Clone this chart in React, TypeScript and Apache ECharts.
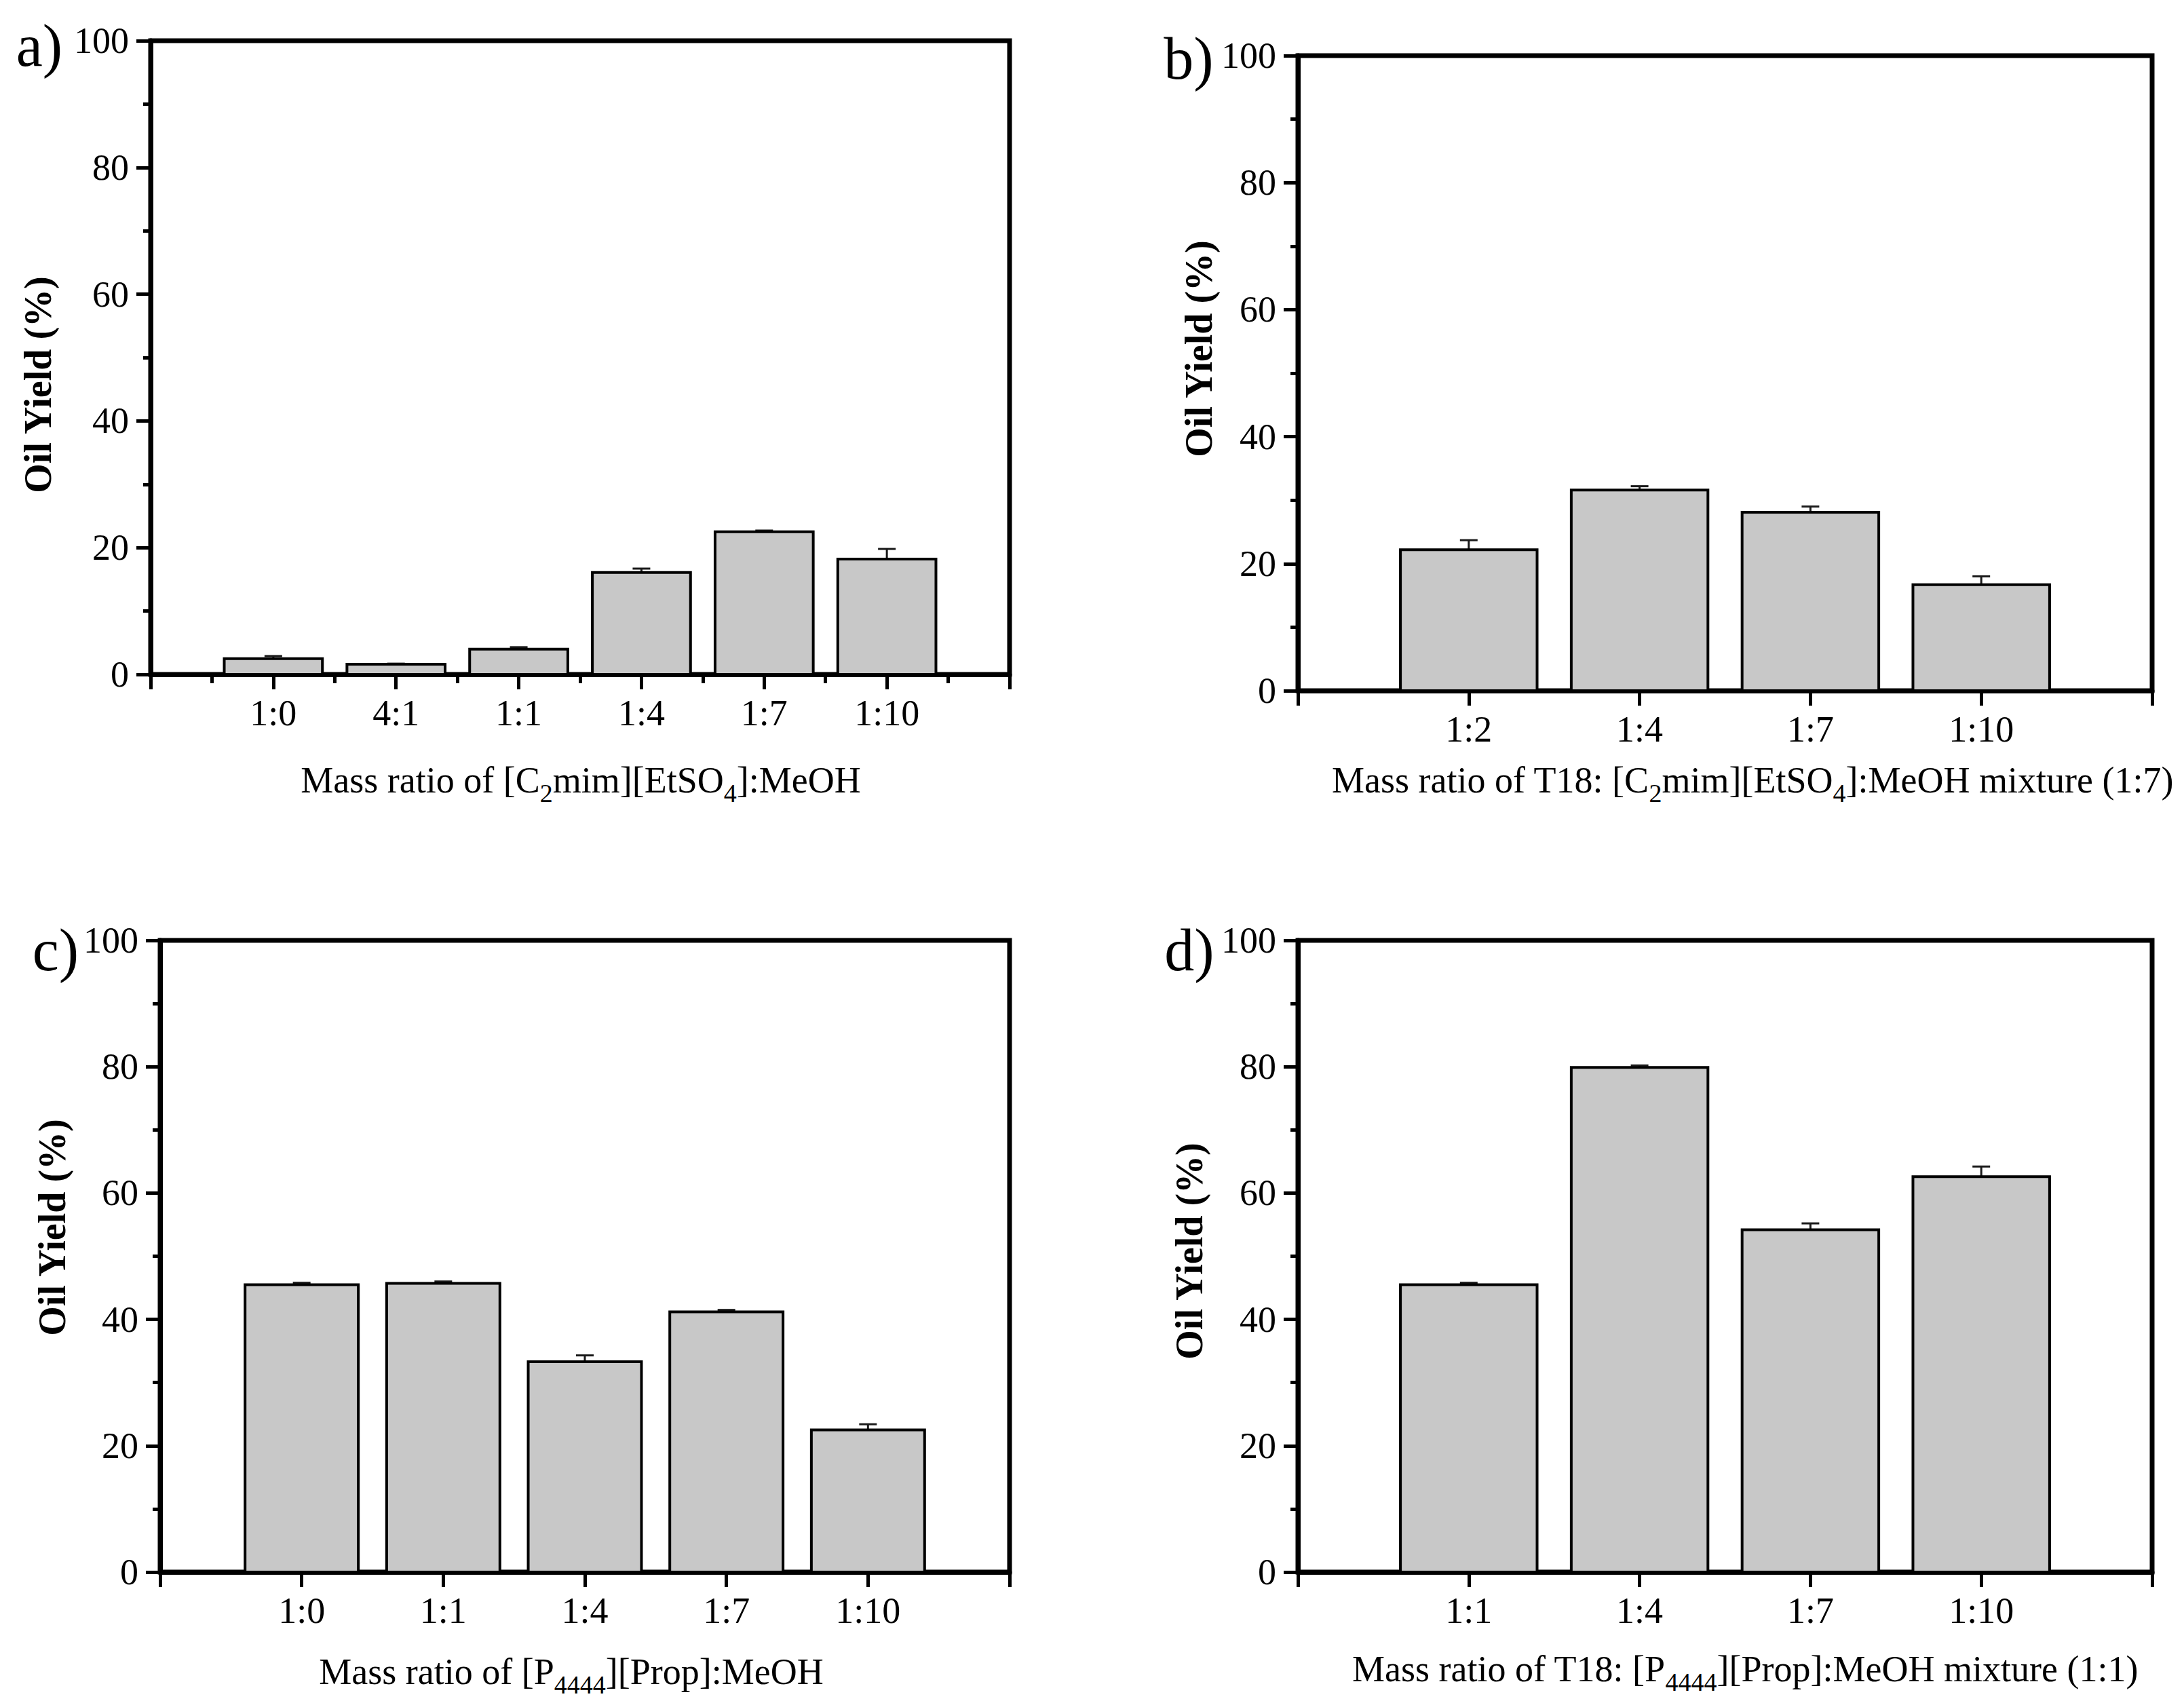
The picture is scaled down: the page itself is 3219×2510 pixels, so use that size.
import React, { useEffect, useRef } from "react";
import * as echarts from "echarts";

// ---- data ----
const catsA = ["1:0", "4:1", "1:1", "1:4", "1:7", "1:10"];
const valsA = [2.5, 1.6, 4.0, 16.1, 22.5, 18.2];
const errA = [0.4, 0.1, 0.3, 0.6, 0.2, 1.6];

const catsB = ["1:2", "1:4", "1:7", "1:10"];
const valsB = [22.2, 31.6, 28.1, 16.7];
const errB = [1.5, 0.6, 0.9, 1.3];

const catsC = ["1:0", "1:1", "1:4", "1:7", "1:10"];
const valsC = [45.5, 45.7, 33.3, 41.2, 22.5];
const errC = [0.3, 0.3, 1.0, 0.3, 0.9];

const catsD = ["1:1", "1:4", "1:7", "1:10"];
const valsD = [45.5, 79.9, 54.2, 62.6];
const errD = [0.3, 0.3, 1.0, 1.6];

const yTicks = [0, 20, 40, 60, 80, 100];

const panelLetters = ["a)", "b)", "c)", "d)"];
const yTitle = "Oil Yield (%)";
const xTitles = [
  "{n|Mass ratio of [C}{s|2}{n|mim][EtSO}{s|4}{n|]:MeOH}",
  "{n|Mass ratio of T18: [C}{s|2}{n|mim][EtSO}{s|4}{n|]:MeOH mixture (1:7)}",
  "{n|Mass ratio of [P}{s|4444}{n|][Prop]:MeOH}",
  "{n|Mass ratio of T18: [P}{s|4444}{n|][Prop]:MeOH mixture (1:1)}",
];

const FONT = "'Liberation Serif', 'Times New Roman', serif";

// layout (pixels)
const grids = [
  { left: 222, top: 60, width: 1266, height: 934 },
  { left: 1913, top: 82, width: 1259, height: 936 },
  { left: 236, top: 1386, width: 1252, height: 931 },
  { left: 1913, top: 1386, width: 1259, height: 931 },
];
const letterPos = [
  [58, 67],
  [1752, 86],
  [82, 1400],
  [1753, 1400],
];
const yTitlePos = [
  [56, 567],
  [1767, 514],
  [77, 1809],
  [1753, 1844],
];
const xTitlePos = [
  [856, 1150],
  [2583, 1150],
  [842, 2464],
  [2572, 2460],
];

const panels = [
  { cats: catsA, vals: valsA, errs: errA, minor: true },
  { cats: catsB, vals: valsB, errs: errB, minor: false },
  { cats: catsC, vals: valsC, errs: errC, minor: false },
  { cats: catsD, vals: valsD, errs: errD, minor: false },
];

function renderBar(params: any, api: any) {
  const x = api.value(0);
  const y = api.value(1);
  const e = api.value(2);
  const bl = api.coord([x - 0.4, 0]);
  const tr = api.coord([x + 0.4, y]);
  const top = api.coord([x, y + e]);
  const cap = 13;
  return {
    type: "group",
    children: [
      {
        type: "line",
        shape: { x1: top[0], y1: top[1], x2: top[0], y2: tr[1] },
        style: { stroke: "#1a1a1a", lineWidth: 3 },
      },
      {
        type: "line",
        shape: { x1: top[0] - cap, y1: top[1], x2: top[0] + cap, y2: top[1] },
        style: { stroke: "#1a1a1a", lineWidth: 3 },
      },
      {
        type: "rect",
        shape: { x: bl[0], y: tr[1], width: tr[0] - bl[0], height: bl[1] - tr[1] },
        style: { fill: "#c8c8c8", stroke: "#000", lineWidth: 4 },
      },
    ],
  };
}

export default function App() {
  const ref = useRef<HTMLDivElement>(null);
  useEffect(() => {
    if (!ref.current) return;
    const chart = echarts.init(ref.current, undefined, { renderer: "svg" });

    const grid = grids.map((g) => ({
      ...g,
      show: true,
      borderColor: "#000",
      borderWidth: 7,
      backgroundColor: "transparent",
      containLabel: false,
    }));

    const xAxis = panels.map((p, i) => ({
      type: "value",
      gridIndex: i,
      min: 0,
      max: p.cats.length + 1,
      interval: 1,
      splitLine: { show: false },
      axisLine: { show: true, onZero: false, lineStyle: { color: "#000", width: 7 } },
      axisTick: { show: true, length: 22, lineStyle: { color: "#000", width: 5 } },
      minorTick: { show: p.minor, splitNumber: 2, length: 13, lineStyle: { color: "#000", width: 5 } },
      minorSplitLine: { show: false },
      axisLabel: {
        fontFamily: FONT,
        fontSize: 54,
        color: "#000",
        margin: 30,
        showMinLabel: true,
        showMaxLabel: true,
        formatter: (v: number) => {
          const k = Math.round(v);
          return k >= 1 && k <= p.cats.length ? p.cats[k - 1] : "";
        },
      },
    }));

    const yAxis = panels.map((p, i) => ({
      type: "value",
      gridIndex: i,
      min: 0,
      max: 100,
      interval: 20,
      splitLine: { show: false },
      axisLine: { show: true, lineStyle: { color: "#000", width: 7 } },
      axisTick: { show: true, length: 21, lineStyle: { color: "#000", width: 5 } },
      minorTick: { show: true, splitNumber: 2, length: 11, lineStyle: { color: "#000", width: 5 } },
      minorSplitLine: { show: false },
      axisLabel: {
        fontFamily: FONT,
        fontSize: 54,
        color: "#000",
        margin: 32,
        formatter: (v: number) => (yTicks.includes(v) ? String(v) : ""),
      },
    }));

    const series = panels.map((p, i) => ({
      type: "custom",
      xAxisIndex: i,
      yAxisIndex: i,
      renderItem: renderBar,
      encode: { x: 0, y: 1 },
      data: p.vals.map((v, k) => [k + 1, v, p.errs[k]]),
      z: 1,
    }));

    const graphic: any[] = [];
    panels.forEach((p, i) => {
      graphic.push({
        type: "text",
        x: letterPos[i][0],
        y: letterPos[i][1],
        style: {
          text: panelLetters[i],
          font: `88px ${FONT}`,
          fill: "#000",
          align: "center",
          verticalAlign: "middle",
        },
      });
      graphic.push({
        type: "text",
        x: yTitlePos[i][0],
        y: yTitlePos[i][1],
        rotation: Math.PI / 2,
        style: {
          text: yTitle,
          font: `bold 56px ${FONT}`,
          fill: "#000",
          align: "center",
          verticalAlign: "middle",
        },
      });
      graphic.push({
        type: "text",
        x: xTitlePos[i][0],
        y: xTitlePos[i][1],
        style: {
          text: xTitles[i],
          fill: "#000",
          align: "center",
          verticalAlign: "middle",
          rich: {
            n: { fontFamily: FONT, fontSize: 54, lineHeight: 60, verticalAlign: "middle", fill: "#000" },
            s: {
              fontFamily: FONT,
              fontSize: 38,
              lineHeight: 38,
              verticalAlign: "top",
              padding: [30, 0, 0, 0],
              fill: "#000",
            },
          },
        },
      });
    });

    chart.setOption({
      animation: false,
      backgroundColor: "#fff",
      grid,
      xAxis,
      yAxis,
      series,
      graphic,
    });
    return () => chart.dispose();
  }, []);

  return (
    <div
      ref={ref}
      style={{ position: "absolute", left: 0, top: 0, width: 3219, height: 2510, background: "#fff" }}
    />
  );
}
